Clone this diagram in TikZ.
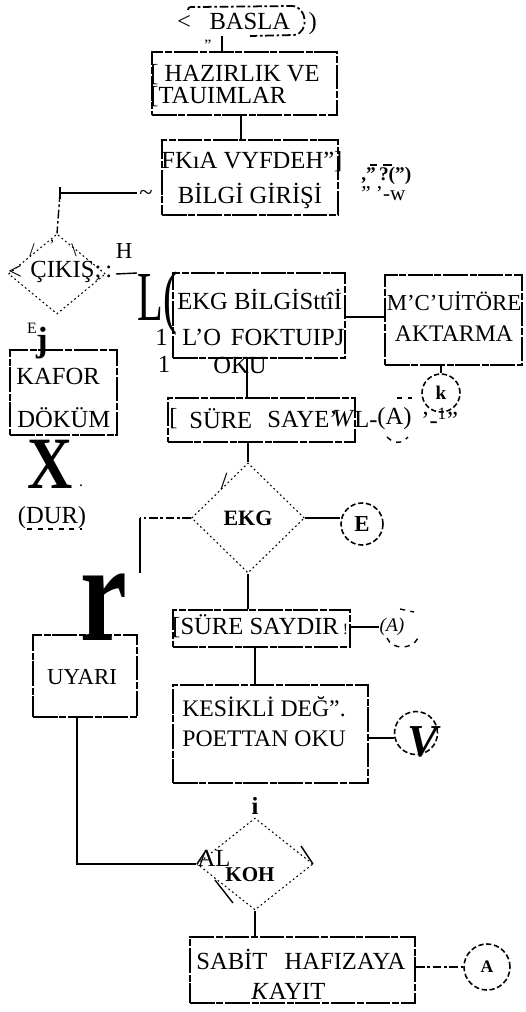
\documentclass[tikz,border=0pt]{standalone}
\usepackage{fontspec}
\setmainfont{Liberation Serif}
\usetikzlibrary{shapes.geometric}
\begin{document}
\begin{tikzpicture}[x=0.02cm,y=-0.02cm,
  every node/.style={font=\fontsize{14}{16.5}\selectfont, inner sep=0pt},
  box/.style={draw, rectangle, line width=1.1pt, dash pattern=on 14pt off 1pt on 4pt off 1pt, inner sep=0pt},
  conn/.style={line width=1.3pt},
  thinconn/.style={line width=0.8pt},
  dconn/.style={line width=1pt, dash pattern=on 5pt off 1.5pt on 1.5pt off 1.5pt},
  dia/.style={draw, diamond, line width=0.6pt, dash pattern=on 1pt off 1.6pt, inner sep=0pt},
  circ/.style={draw, circle, line width=0.9pt, dash pattern=on 3pt off 1.5pt, inner sep=0pt},
  lbl/.style={anchor=west},
  art/.style={font=\fontsize{9}{9}\selectfont},
]
\useasboundingbox (0,0) rectangle (525,1012);

% guide coordinates
\coordinate (xa) at (222,0);
\coordinate (xb) at (241,0);
\coordinate (xc) at (248,0);
\coordinate (xd) at (77,0);
\coordinate (xe) at (255,0);
\coordinate (xk) at (247,0);
\coordinate (ym) at (0,317);
\coordinate (yv) at (0,738);

% BASLA
\node (basla) at (247,24) {<\ \ \ BASLA\ \ \ )};
\draw[dconn] (188,10) .. controls (188,6) and (192,7) .. (196,7) -- (292,6) .. controls (307,6) and (310,33) .. (294,35) -- (250,36);
\node[art] at (208,45) {"};

% HAZIRLIK
\node[box, minimum width=3.7cm, minimum height=1.26cm] (hazir) at (244.5,83.5) {};
\node[lbl] at (150,75) {[\ HAZIRLIK VE};
\node[lbl] at (150,97) {[TAUIMLAR};
\draw[conn] (basla.south -| xa) -- (hazir.north -| xa);

% BILGI
\node[box, minimum width=3.52cm, minimum height=1.5cm] (bilgi) at (250,177.5) {};
\node[lbl] at (161,162) {FKıA VYFDEH"]};
\node at (250,196) {BİLGİ GİRİŞİ};
\draw[conn] (hazir.south -| xb) -- (bilgi.north -| xb);
\node[lbl, font=\bfseries\fontsize{11}{11}\selectfont] at (361,176) {,”\,?(”)};
\draw[thinconn] (370,165) -- (377,165) (383,165) -- (392,165);
\node[lbl, font=\fontsize{12}{12}\selectfont] at (361,194) {”\ ’-w};

% line to CIKIS
\coordinate (lc) at (60,193);
\draw[thinconn] (lc) -- ++(77,0);
\draw[thinconn] (60,187) -- (60,199);
\node at (146,195) {\textasciitilde};

% CIKIS diamond
\node[dia, minimum width=1.94cm, minimum height=1.6cm] (cikis) at (57,274) {};
\draw[dconn, line width=0.8pt] (lc) -- (cikis.north);
\node at (15,272) {<};
\node[lbl] at (30,272) {ÇIKIŞ;\,:};
\node[font=\fontsize{11}{11}\selectfont] at (32,250) {/};
\node[art] at (52,245) {'};
\node[font=\fontsize{11}{11}\selectfont] at (74,250) {\textbackslash};
\node[font=\fontsize{13}{13}\selectfont] at (124,251) {H};
\coordinate (cr) at (137,273);
\draw[thinconn] (cikis.east) ++(10,0) -- (cr);
\node[anchor=base west, font=\fontsize{40}{40}\selectfont] at (cr |- 0,320) {\scalebox{0.6}[1]{L(}};

% EKG box
\node[box, minimum width=3.44cm, minimum height=1.7cm] (ekg) at (259,315.5) {};
\node[lbl] at (177,299) {EKG BİLGİSttîİ};
\node[lbl] at (155,337) {1\hspace{0.6em}L'O\hspace{0.4em}FOKTUIPJ};
\node at (240,365) {OKU};
\node at (164,364) {1};

% MONITORE box
\node[box, minimum width=2.74cm, minimum height=1.8cm] (mon) at (453.5,320) {};
\node[font=\fontsize{13}{15}\selectfont] at (454,301) {M'C'UİTÖRE};
\node[font=\fontsize{13.5}{15}\selectfont] at (454,334) {AKTARMA};
\draw[conn] (ekg.east |- ym) -- (mon.west |- ym);

% circle k
\node[circ, minimum size=0.76cm] (ck) at (441,393) {\bfseries\fontsize{11}{11}\selectfont k};
\draw[thinconn] (mon.south -| ck) -- (ck.north);

% SURE SAYE box
\node[box, minimum width=3.74cm, minimum height=0.88cm] (sure1) at (261.5,420) {};
\node[lbl] at (169,419) {[};
\node[lbl] at (189,419) {SÜRE};
\node[lbl] at (267,419) {SAYE'};
\node[lbl] at (332,419) {\textit{W}};
\node[lbl] at (354,419) {L-};
\node[lbl] at (377,419) {(A)};
\node[lbl] at (421,418) {'-\textsuperscript{1}''};
\draw[thinconn, dashed] (397,398) -- (412,398);
\draw[thinconn, dashed] (387,437) .. controls (394,444) and (402,444) .. (408,437);
\draw[conn] (ekg.south -| xk) -- (sure1.north -| xk);

% EKG diamond
\node[dia, minimum width=2.26cm, minimum height=2.2cm] (ekgd) at (248,518) {\bfseries\fontsize{12.5}{13}\selectfont EKG};
\node at (224,482) {/};
\draw[conn] (sure1.south -| xc) -- (ekgd.north);
\coordinate (lb) at (140,518);
\coordinate (lb2) at (140,573);
\draw[dconn] (ekgd.west) -- (lb);
\draw[conn] (lb) -- (lb2);

% circle E
\node[circ, minimum size=0.84cm] (ce) at (362,524) {\bfseries\fontsize{13}{13}\selectfont E};
\draw[conn] (ekgd.east) -- (ce.west |- ekgd.east);

% big r and UYARI
\node[anchor=base west, font=\bfseries\fontsize{80}{80}\selectfont] at (80,640) {\scalebox{0.75}[1]{r}};
\node[box, minimum width=2.08cm, minimum height=1.64cm] (uyari) at (85,676) {};
\node[font=\fontsize{13}{15}\selectfont] at (82,677) {UYARI};

% SURE SAYDIR
\node[box, minimum width=3.54cm, minimum height=0.74cm] (saydir) at (261.5,628.5) {};
\node[lbl] at (172,626) {[SÜRE SAYDIR\,{\fontsize{9}{9}\selectfont !}};
\draw[conn] (ekgd.south) -- (saydir.north -| ekgd.south);
\node[font=\itshape\fontsize{11}{12}\selectfont] (sa) at (392,627) {(A)};
\draw[conn] (saydir.east |- sa) -- (sa.west);
\draw[thinconn, dashed] (387,638) .. controls (392,650) and (412,650) .. (418,638);
\draw[thinconn, dashed] (400,609) -- (414,612);

% KESIKLI box
\node[box, minimum width=3.9cm, minimum height=1.96cm] (kesik) at (270.5,734) {};
\node[lbl, font=\fontsize{13.5}{16}\selectfont] at (182,707) {KESİKLİ DEĞ".};
\node[lbl, font=\fontsize{13.5}{16}\selectfont] at (182,739) {POETTAN OKU};
\draw[conn] (saydir.south -| xe) -- (kesik.north -| xe);
\node[circ, minimum size=0.86cm] (cv) at (416,733) {};
\node[font=\bfseries\itshape\fontsize{26}{26}\selectfont] at (423,742) {V};
\draw[conn] (kesik.east |- yv) -- (cv.west |- yv);
\node[font=\bfseries\fontsize{14}{14}\selectfont] (ii) at (255,806) {i};

% AL KOH diamond
\node[dia, minimum width=2.32cm, minimum height=1.84cm] (alkoh) at (255,864) {};
\draw[thinconn] (197,864) -- (205,852);
\draw[thinconn] (301,846) -- (313,864);
\draw[thinconn] (215,880) -- (233,903);
\node at (214,858) {AL};
\node[font=\bfseries\fontsize{12}{12}\selectfont] at (250,875) {KOH};
\draw[conn] (uyari.south -| xd) |- (alkoh.west);

% SABIT box
\node[box, minimum width=4.5cm, minimum height=1.32cm] (sabit) at (302.5,970) {};
\node[lbl] at (196,959) {SABİT\hspace{0.7em}HAFIZAYA};
\node[lbl] at (251,991) {\textit{K}AYIT};
\draw[conn] (alkoh.south) -- (sabit.north -| alkoh.south);
\node[circ, minimum size=0.92cm] (ca) at (487,967) {\bfseries\fontsize{10}{10}\selectfont A};
\draw[dconn] (sabit.east |- ca) -- (ca.west);

% KAFOR DOKUM side
\node[font=\fontsize{9}{9}\selectfont] at (32,328) {E};
\node[anchor=base, font=\bfseries\fontsize{20}{20}\selectfont] at (42,351) {j};
\node[box, minimum width=2.14cm, minimum height=1.7cm] (kafor) at (63.5,392.5) {};
\node[lbl] at (16,376) {KAFOR};
\node[lbl] at (17,418) {DÖKÜM};
\node[anchor=base, font=\bfseries\fontsize{42}{42}\selectfont] (xx) at (50,488) {\scalebox{0.85}[1]{X}};
\node[art] at (81,486) {.};
\node (dur) at (52,518) {(DUR)};
\draw[thinconn, dashed] (27,529) -- (82,529);
\end{tikzpicture}
\end{document}
